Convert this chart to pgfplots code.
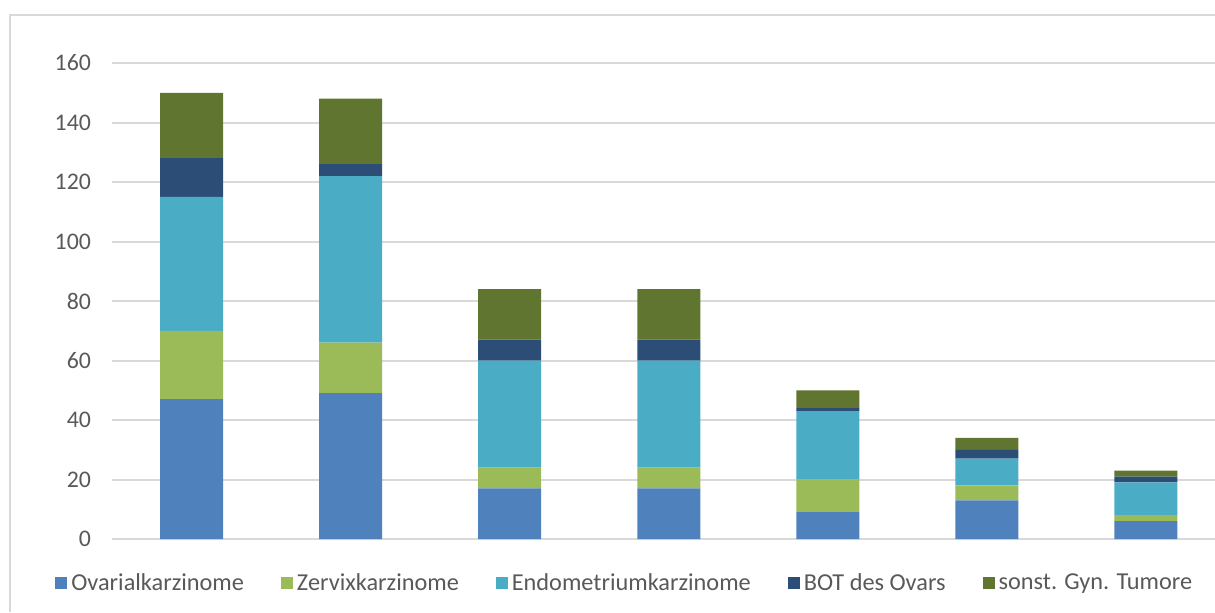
\documentclass[border=0pt]{standalone}
\usepackage{pgfplots}
\pgfplotsset{compat=1.18}
\usepackage{fontspec}
\setmainfont{Carlito}
\definecolor{cOva}{HTML}{4F81BD}
\definecolor{cZer}{HTML}{9BBB59}
\definecolor{cEnd}{HTML}{4BACC6}
\definecolor{cBOT}{HTML}{2C4D75}
\definecolor{cSon}{HTML}{607530}
\definecolor{cTxt}{HTML}{595959}
\definecolor{cGrid}{HTML}{D9D9D9}
\begin{document}
\begin{tikzpicture}
\path[use as bounding box] (0pt,0pt) rectangle (607.5pt,306pt);
\draw[cGrid, line width=1pt] (4.75pt,0pt) -- (4.75pt,298.5pt) -- (608pt,298.5pt);
\begin{axis}[
  at={(56pt,36.5pt)}, anchor=south west,
  scale only axis, width=551.5pt, height=238pt,
  xmin=-0.5, xmax=6.434, ymin=0, ymax=160,
  ytick={0,20,...,160}, xtick=\empty,
  ymajorgrids, grid style={cGrid, line width=1pt},
  axis line style={draw=none}, major tick length=0pt,
  yticklabel style={font=\fontsize{11.9}{14}\selectfont, text=cTxt, xshift=-7pt},
  /pgf/number format/assume math mode=true,
  ybar stacked, bar width=31.5pt,
  legend columns=5,
  legend style={at={(-0.0517,-0.093)}, anchor=west, draw=none, inner sep=0pt,
    font=\fontsize{12.15}{14}\selectfont, text=cTxt,
    /tikz/every even column/.append style={column sep=16.5pt}},
  legend image code/.code={\fill[#1] (0pt,-3pt) rectangle (6pt,3pt);},
]
\addplot[fill=cOva, draw=none] coordinates {(0,47) (1,49) (2,17) (3,17) (4,9) (5,13) (6,6)};
\addplot[fill=cZer, draw=none] coordinates {(0,23) (1,17) (2,7) (3,7) (4,11) (5,5) (6,2)};
\addplot[fill=cEnd, draw=none] coordinates {(0,45) (1,56) (2,36) (3,36) (4,23) (5,9) (6,11)};
\addplot[fill=cBOT, draw=none] coordinates {(0,13) (1,4) (2,7) (3,7) (4,1) (5,3) (6,2)};
\addplot[fill=cSon, draw=none] coordinates {(0,22) (1,22) (2,17) (3,17) (4,6) (5,4) (6,2)};
\legend{Ovarialkarzinome, Zervixkarzinome, Endometriumkarzinome, BOT des Ovars, sonst. Gyn. Tumore}
\end{axis}
\end{tikzpicture}
\end{document}
